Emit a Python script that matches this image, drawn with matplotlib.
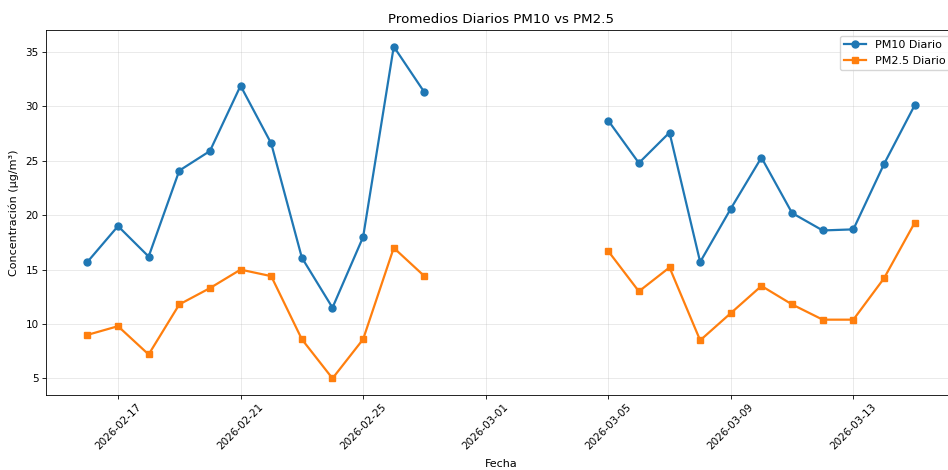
import matplotlib
matplotlib.use("Agg")
import matplotlib.pyplot as plt
import matplotlib.dates as mdates
import numpy as np
import pandas as pd

# Data
dates = pd.date_range("2026-02-16", "2026-03-15", freq="D")
pm10 = [15.7, 19.0, 16.2, 24.1, 25.9, 31.9, 26.6, 16.1, 11.5, 18.0, 35.5, 31.3,
        None, None, None, None, None,
        28.7, 24.8, 27.6, 15.7, 20.6, 25.3, 20.2, 18.6, 18.7, 24.7, 30.1]
pm25 = [9.0, 9.8, 7.2, 11.8, 13.3, 15.0, 14.4, 8.6, 5.0, 8.6, 17.0, 14.4,
        None, None, None, None, None,
        16.7, 13.0, 15.2, 8.5, 11.0, 13.5, 11.8, 10.4, 10.4, 14.2, 19.3]
pm10 = np.array([np.nan if v is None else v for v in pm10], dtype=float)
pm25 = np.array([np.nan if v is None else v for v in pm25], dtype=float)

title = "Promedios Diarios PM10 vs PM2.5"
xlabel = "Fecha"
ylabel = "Concentración (µg/m³)"

fs = 7.5
plt.rcParams['font.family'] = ['DejaVu Sans']

fig = plt.figure(figsize=(9.48, 4.70), dpi=100)
ax = fig.add_axes([46/948, 75/470, 910/948, 365/470])

ax.plot(dates, pm10, marker='o', color='#1f77b4', linewidth=1.6, markersize=5.0,
        label='PM10 Diario')
ax.plot(dates, pm25, marker='s', color='#ff7f0e', linewidth=1.6, markersize=4.6,
        label='PM2.5 Diario')

ax.set_title(title, fontsize=9.6, pad=5)
ax.set_xlabel(xlabel, fontsize=8, labelpad=5)
ax.set_ylabel(ylabel, fontsize=8, labelpad=5)

ax.xaxis.set_major_locator(mdates.DayLocator(bymonthday=[1, 5, 9, 13, 17, 21, 25]))
ax.xaxis.set_major_formatter(mdates.DateFormatter("%Y-%m-%d"))
ax.tick_params(axis='both', labelsize=fs, length=2.6, width=0.6, pad=2.6)
plt.setp(ax.get_xticklabels(), rotation=45)

ax.grid(True, alpha=0.3, linewidth=0.6)
for s in ax.spines.values():
    s.set_linewidth(0.6)

ax.legend(loc='upper right', fontsize=8)

fig.savefig("out.png", dpi=100)
